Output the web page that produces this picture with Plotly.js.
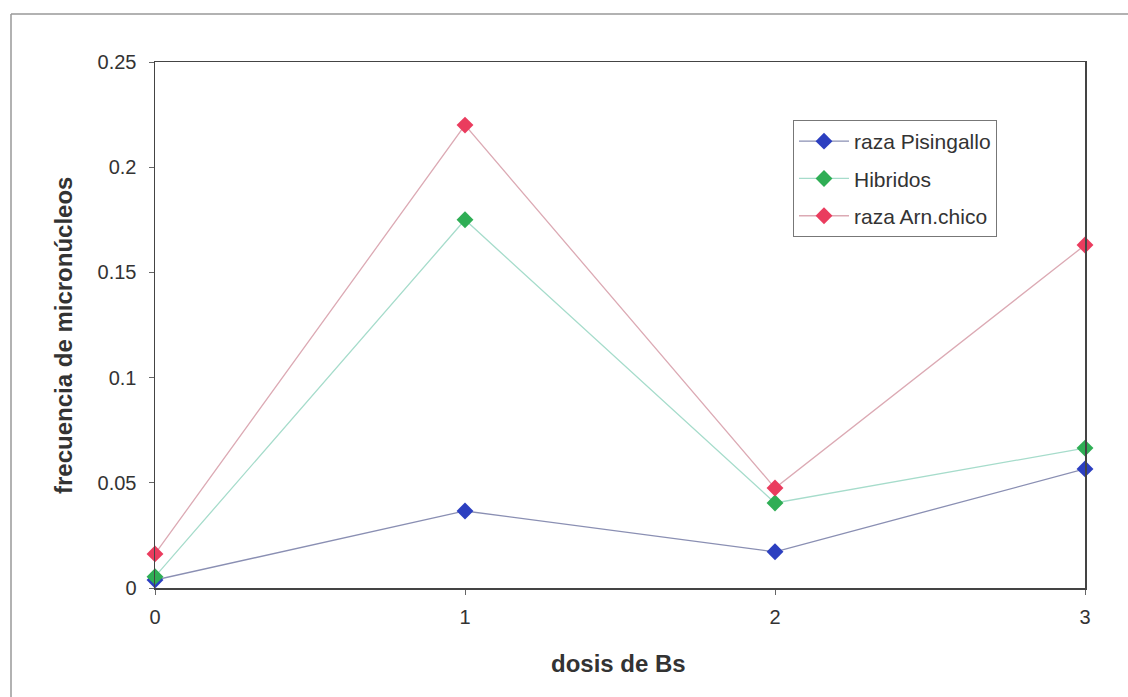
<!DOCTYPE html>
<html>
<head>
<meta charset="utf-8">
<script src="https://cdn.plot.ly/plotly-3.0.1.min.js"></script>
<style>html,body{margin:0;padding:0;background:#fff;}#chart{width:1128px;height:697px;}</style>
</head>
<body>
<div id="chart"></div>
<script>
var dosis = [0, 1, 2, 3];
var seriesNames = ["raza Pisingallo", "Hibridos", "raza Arn.chico"];
var pisingallo = [0.0038, 0.0366, 0.0172, 0.0566];
var hibridos = [0.0054, 0.175, 0.0404, 0.0665];
var arrochico = [0.0162, 0.220, 0.0475, 0.163];
var xTicks = [0, 1, 2, 3];
var yTicks = [0, 0.05, 0.1, 0.15, 0.2, 0.25];
var yTickText = ["0", "0.05", "0.1", "0.15", "0.2", "0.25"];

var lineColors = ["#8a8fb3", "#a6dccb", "#dcaab4"];
var markerColors = ["#2c3fc0", "#2fae55", "#ea3c5e"];
var data = [pisingallo, hibridos, arrochico];

var traces = data.map(function (vals, i) {
  return {
    x: dosis, y: vals, type: "scatter", mode: "lines+markers",
    name: seriesNames[i], legendgroup: "g" + i,
    line: {color: lineColors[i], width: 1.3},
    marker: {symbol: "diamond", size: 13, color: markerColors[i], line: {width: 0}},
    cliponaxis: false
  };
});

var W = 1128, H = 697, L = 155, R = 43, T = 62, B = 109;
var pw = W - L - R, ph = H - T - B;
function px(x) { return (x - L) / pw; }
function py(y) { return (H - B - y) / ph; }

var font = "Liberation Sans, Arial, sans-serif";
var layout = {
  width: W, height: H,
  margin: {l: L, r: R, t: T, b: B, pad: 0},
  paper_bgcolor: "#fff", plot_bgcolor: "#fff",
  font: {family: font, color: "#333", size: 20},
  showlegend: true,
  legend: {
    x: px(793), y: py(120), xanchor: "left", yanchor: "top",
    bgcolor: "#fff", bordercolor: "#777", borderwidth: 1,
    font: {family: font, size: 21, color: "#333"},
    traceorder: "grouped", tracegroupgap: 7, itemwidth: 50
  },
  xaxis: {
    range: [0, 3], tickvals: xTicks, ticktext: xTicks.map(String),
    showgrid: false, zeroline: false, showline: true, linecolor: "#444", linewidth: 1.5,
    mirror: true, ticks: "outside", ticklen: 5, tickcolor: "#666",
    tickfont: {size: 20, color: "#333"}, ticklabelstandoff: 5, fixedrange: true
  },
  yaxis: {
    range: [0, 0.25], tickvals: yTicks, ticktext: yTickText,
    showgrid: false, zeroline: false, showline: true, linecolor: "#444", linewidth: 1.5,
    mirror: true, ticks: "outside", ticklen: 5, tickcolor: "#666",
    tickfont: {size: 20, color: "#333"}, ticklabelstandoff: 8, fixedrange: true
  },
  annotations: [
    {text: "<b>dosis de Bs</b>", xref: "paper", yref: "paper", x: px(618), y: py(663),
     xanchor: "center", yanchor: "middle", showarrow: false, font: {size: 24, color: "#333", family: font}},
    {text: "<b>frecuencia de micronúcleos</b>", xref: "paper", yref: "paper", x: px(63), y: py(336),
     xanchor: "center", yanchor: "middle", textangle: -90, showarrow: false, font: {size: 24, color: "#333", family: font}}
  ],
  shapes: [
    {type: "line", xref: "paper", yref: "paper", x0: px(11), x1: px(1140), y0: py(14), y1: py(14), line: {color: "#999", width: 1.5}},
    {type: "line", xref: "paper", yref: "paper", x0: px(11), x1: px(11), y0: py(14), y1: py(700), line: {color: "#999", width: 1.5}}
  ]
};

Plotly.newPlot("chart", traces, layout, {displayModeBar: false, staticPlot: true});
</script>
</body>
</html>
